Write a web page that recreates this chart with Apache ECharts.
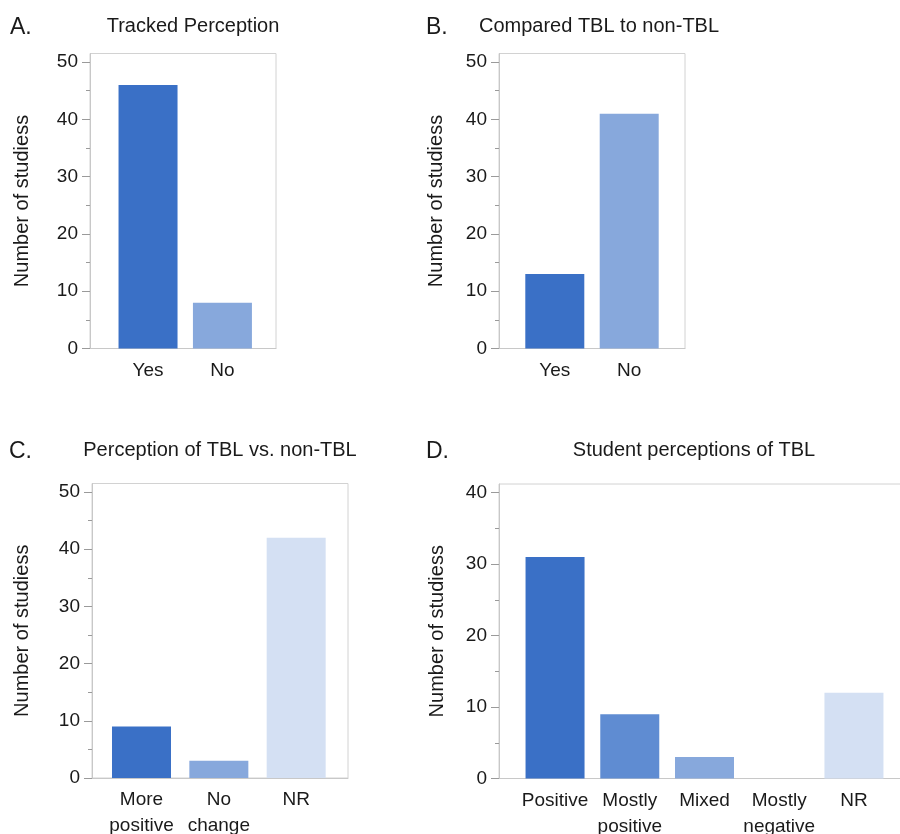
<!DOCTYPE html>
<html>
<head>
<meta charset="utf-8">
<script src="https://cdn.jsdelivr.net/npm/echarts@6/dist/echarts.min.js"></script>
<style>
  html, body { margin: 0; padding: 0; background: #fff; }
  #main { width: 900px; height: 834px; }
</style>
</head>
<body>
<div id="main"></div>
<script>
  // data
  const catsA = ['Yes', 'No'];
  const valsA = [46, 8];
  const catsB = ['Yes', 'No'];
  const valsB = [13, 41];
  const catsC = ['More\npositive', 'No\nchange', 'NR'];
  const valsC = [9, 3, 42];
  const catsD = ['Positive', 'Mostly\npositive', 'Mixed', 'Mostly\nnegative', 'NR'];
  const valsD = [31, 9, 3, 0, 12];

  const majorTicks50 = [0, 10, 20, 30, 40, 50];
  const minorTicks50 = [5, 15, 25, 35, 45];
  const majorTicks40 = [0, 10, 20, 30, 40];
  const minorTicks40 = [5, 15, 25, 35];

  const DARK = '#3a70c6', MID = '#5f8cd2', LIGHT = '#87a8dc', PALE = '#d4e0f3';
  const colorsA = [DARK, LIGHT];
  const colorsB = [DARK, LIGHT];
  const colorsC = [DARK, LIGHT, PALE];
  const colorsD = [DARK, MID, LIGHT, LIGHT, PALE];

  const FONT = "'Liberation Sans', Arial, Helvetica, sans-serif";
  const TXT = '#1a1a1a';

  var panels = [
    { cats: catsA, vals: valsA, colors: colorsA, major: majorTicks50, minor: minorTicks50, ymax: 51.5,
      xmin: -0.78, xmax: 1.72, grid: { left: 90, top: 53.5, width: 186, height: 295 }, nameGap: 58 },
    { cats: catsB, vals: valsB, colors: colorsB, major: majorTicks50, minor: minorTicks50, ymax: 51.5,
      xmin: -0.75, xmax: 1.75, grid: { left: 499, top: 53.5, width: 186, height: 295 }, nameGap: 53 },
    { cats: catsC, vals: valsC, colors: colorsC, major: majorTicks50, minor: minorTicks50, ymax: 51.5,
      xmin: -0.64, xmax: 2.67, grid: { left: 92, top: 483.5, width: 256, height: 294.5 }, nameGap: 60 },
    { cats: catsD, vals: valsD, colors: colorsD, major: majorTicks40, minor: minorTicks40, ymax: 41.2,
      xmin: -0.75, xmax: 4.75, grid: { left: 499, top: 484, width: 411, height: 294.5 }, nameGap: 52 }
  ];

  var grids = [], xAxes = [], yAxes = [], series = [];
  panels.forEach(function (p, i) {
    grids.push(Object.assign({
      show: true, borderColor: '#d2d2d2', borderWidth: 1, backgroundColor: 'transparent',
      containLabel: false, outerBoundsMode: 'none'
    }, p.grid));
    xAxes.push({
      type: 'value', gridIndex: i, min: p.xmin, max: p.xmax,
      splitLine: { show: false },
      axisLine: { show: true, onZero: false, lineStyle: { color: '#c8c8c8' } },
      axisTick: { show: false },
      axisLabel: {
        customValues: p.cats.map(function (c, k) { return k; }),
        formatter: function (v) { return p.cats[v]; },
        fontFamily: FONT, fontSize: 19, color: TXT, margin: 9, lineHeight: 26
      }
    });
    // major ticks with labels
    yAxes.push({
      type: 'value', gridIndex: i, min: 0, max: p.ymax, position: 'left',
      name: 'Number of studiess', nameLocation: 'middle', nameGap: p.nameGap,
      nameTextStyle: { fontFamily: FONT, fontSize: 20, color: TXT },
      splitLine: { show: false },
      axisLine: { show: true, onZero: false, lineStyle: { color: '#c8c8c8' } },
      axisTick: { show: true, customValues: p.major, length: 8, lineStyle: { color: '#9a9a9a' } },
      axisLabel: { customValues: p.major, fontFamily: FONT, fontSize: 19, color: TXT, margin: 12 }
    });
    // minor ticks only
    yAxes.push({
      type: 'value', gridIndex: i, min: 0, max: p.ymax, position: 'left',
      splitLine: { show: false },
      axisLine: { show: false, onZero: false },
      axisTick: { show: true, customValues: p.minor, length: 4, lineStyle: { color: '#9a9a9a' } },
      axisLabel: { show: false }
    });
    series.push({
      type: 'bar', xAxisIndex: i, yAxisIndex: i * 2, barWidth: 59,
      data: p.vals.map(function (v, k) {
        return { value: [k, v], itemStyle: { color: p.colors[k] } };
      })
    });
  });

  function txt(x, y, s, size) {
    return { type: 'text', x: x, y: y, style: { text: s, font: size + 'px ' + FONT, fill: TXT, textAlign: 'left', textVerticalAlign: 'middle' } };
  }
  function ctxt(x, y, s, size) {
    return { type: 'text', x: x, y: y, style: { text: s, font: size + 'px ' + FONT, fill: TXT, textAlign: 'center', textVerticalAlign: 'middle' } };
  }

  var chart = echarts.init(document.getElementById('main'));
  chart.setOption({
    animation: false,
    backgroundColor: '#fff',
    grid: grids,
    xAxis: xAxes,
    yAxis: yAxes,
    series: series,
    graphic: [
      txt(10, 28, 'A.', 23),
      txt(426, 28, 'B.', 23),
      txt(9, 452, 'C.', 23),
      txt(426, 452, 'D.', 23),
      ctxt(193, 26, 'Tracked Perception', 20),
      ctxt(599, 26, 'Compared TBL to non-TBL', 20),
      ctxt(220, 450, 'Perception of TBL vs. non-TBL', 20),
      ctxt(694, 450, 'Student perceptions of TBL', 20)
    ]
  });
</script>
</body>
</html>
